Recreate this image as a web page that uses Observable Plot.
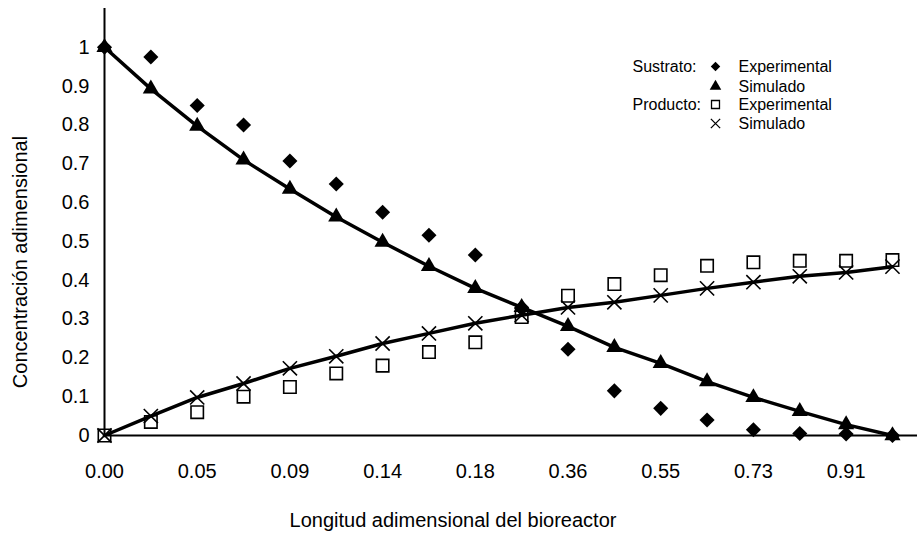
<!DOCTYPE html>
<html>
<head>
<meta charset="utf-8">
<script src="https://cdn.jsdelivr.net/npm/d3@7"></script>
<script src="https://cdn.jsdelivr.net/npm/@observablehq/plot@0.6"></script>
<style>
  html, body { margin: 0; padding: 0; background: #fff; }
  svg { display: block; }
</style>
</head>
<body>
<div id="chart"></div>
<script>
// Tick labels of the (non-uniform) x axis, one label every second sample
const xLabels = ["0.00", "0.05", "0.09", "0.14", "0.18", "0.36", "0.55", "0.73", "0.91"];
// 18 samples along the bioreactor (equally spaced on the chart)
const sustratoExperimental = [1.0, 0.975, 0.85, 0.80, 0.707, 0.648, 0.575, 0.516, 0.465, 0.33, 0.222, 0.115, 0.07, 0.04, 0.015, 0.005, 0.004, 0.0];
const sustratoSimulado     = [1.0, 0.893, 0.797, 0.71, 0.635, 0.563, 0.498, 0.436, 0.379, 0.33, 0.281, 0.227, 0.186, 0.139, 0.098, 0.062, 0.028, 0.0];
const productoExperimental = [0.0, 0.035, 0.06, 0.10, 0.125, 0.16, 0.18, 0.215, 0.24, 0.305, 0.36, 0.39, 0.413, 0.437, 0.446, 0.45, 0.45, 0.452];
const productoSimulado     = [0.0, 0.05, 0.098, 0.134, 0.173, 0.204, 0.237, 0.263, 0.289, 0.31, 0.33, 0.343, 0.361, 0.379, 0.395, 0.41, 0.42, 0.435];
const yTicks = [0, 0.1, 0.2, 0.3, 0.4, 0.5, 0.6, 0.7, 0.8, 0.9, 1];
const legendRows = [
  {group: "Sustrato:", symbol: "diamond2", fill: "black", stroke: "none", label: "Experimental"},
  {group: "", symbol: "triangle", fill: "black", stroke: "none", label: "Simulado"},
  {group: "Producto:", symbol: "square", fill: "none", stroke: "black", label: "Experimental"},
  {group: "", symbol: "times", fill: "none", stroke: "black", label: "Simulado"}
];

const toRows = arr => arr.map((v, i) => ({i, v}));
const sE = toRows(sustratoExperimental);
const sS = toRows(sustratoSimulado);
const pE = toRows(productoExperimental);
const pS = toRows(productoSimulado);
const xTickIdx = xLabels.map((_, k) => k * 2);

const font = "'Liberation Sans', Arial, Helvetica, sans-serif";
const legendTop = 58, legendStep = [0, 20, 38, 57];

const chart = Plot.plot({
  width: 917,
  height: 539,
  marginLeft: 104,
  marginRight: 0,
  marginTop: 8,
  marginBottom: 104,
  style: {fontFamily: font, background: "white", color: "black"},
  x: {type: "linear", domain: [0, 17.54]},
  y: {domain: [0, 1.1]},
  marks: [
    Plot.axisX(xTickIdx, {tickSize: 0, tickPadding: 28, fontSize: 20, tickFormat: i => xLabels[i / 2], label: null}),
    Plot.axisY(yTicks, {tickSize: 0, tickPadding: 15, fontSize: 20, tickFormat: d => String(+d.toFixed(1)), label: null}),
    Plot.ruleY([0], {stroke: "black", strokeWidth: 2}),
    Plot.ruleX([0], {stroke: "black", strokeWidth: 2}),
    Plot.line(sS, {x: "i", y: "v", stroke: "black", strokeWidth: 3.5}),
    Plot.line(pS, {x: "i", y: "v", stroke: "black", strokeWidth: 3.5}),
    Plot.dot(sS, {x: "i", y: "v", symbol: "triangle", r: 6, fill: "black"}),
    Plot.dot(sE, {x: "i", y: "v", symbol: "diamond2", r: 6.8, fill: "black"}),
    Plot.dot(pE, {x: "i", y: "v", symbol: "square", r: 7, fill: "none", stroke: "black", strokeWidth: 1.6}),
    Plot.dot(pS, {x: "i", y: "v", symbol: "times", r: 6.5, stroke: "black", strokeWidth: 1.6}),
    // axis titles
    Plot.text(["Longitud adimensional del bioreactor"], {frameAnchor: "bottom", textAnchor: "middle", lineAnchor: "middle", dx: -58, dy: 85, fontSize: 20, fill: "black"}),
    Plot.text(["Concentración adimensional"], {frameAnchor: "left", textAnchor: "middle", lineAnchor: "middle", rotate: -90, dx: -84, dy: 40, fontSize: 20, fill: "black"}),
    // legend
    ...legendRows.flatMap((row, k) => [
      Plot.text([row.group], {frameAnchor: "top-left", dx: 528, dy: legendTop + legendStep[k], textAnchor: "start", lineAnchor: "middle", fontSize: 16, fill: "black"}),
      Plot.dot([row], {frameAnchor: "top-left", dx: 611, dy: legendTop + legendStep[k], symbol: row.symbol, r: row.symbol === "square" ? 4.5 : 4.3, fill: row.fill, stroke: row.stroke, strokeWidth: 1.3}),
      Plot.text([row.label], {frameAnchor: "top-left", dx: 634, dy: legendTop + legendStep[k], textAnchor: "start", lineAnchor: "middle", fontSize: 16, fill: "black"})
    ])
  ]
});
document.getElementById("chart").appendChild(chart);
</script>
</body>
</html>
